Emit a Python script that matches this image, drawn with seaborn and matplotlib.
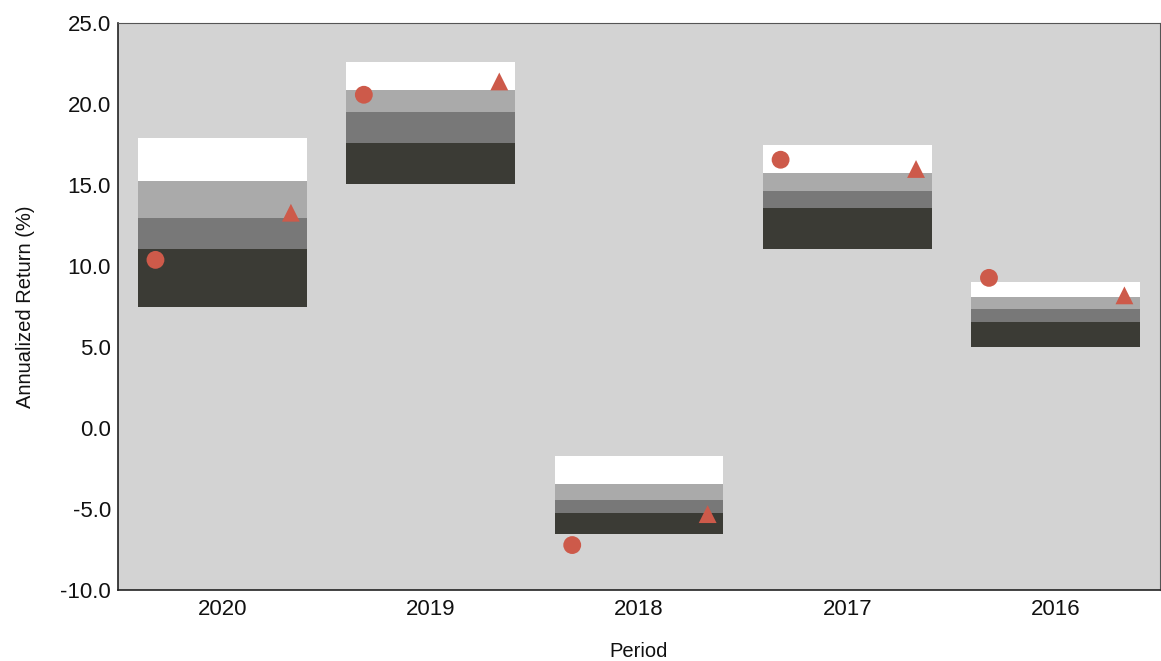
import numpy as np
import pandas as pd
import matplotlib
matplotlib.use("Agg")
import matplotlib.pyplot as plt
import seaborn as sns

# ================= DATOS =================
periods = ["2020", "2019", "2018", "2017", "2016"]
# quartile bands (top -> bottom)
band_max = [17.93, 22.61, -1.72, 17.49, 9.03]
band_q1 = [15.27, 20.85, -3.43, 15.74, 8.08]
band_med = [12.98, 19.49, -4.43, 14.67, 7.36]
band_q3 = [11.07, 17.62, -5.26, 13.58, 6.58]
band_min = [7.49, 15.08, -6.55, 11.07, 5.03]
fund_ret = [10.39, 20.58, -7.21, 16.57, 9.28]      # circles
bench_ret = [13.3, 21.4, -5.3, 16.0, 8.2]          # triangles

BG = "#d3d3d3"
BAND_COLORS = ["#ffffff", "#aaaaaa", "#787878", "#3b3b35"]
MARK = "#cd5a4a"

sns.set_theme(style="white")
plt.rcParams["font.family"] = ["Liberation Sans", "DejaVu Sans"]

fig = plt.figure(figsize=(11.61, 6.61), dpi=100)
ax = fig.add_axes([0.1016, 0.107, 0.8974, 0.858])
ax.set_facecolor(BG)

x = np.arange(len(periods))
edges = [band_max, band_q1, band_med, band_q3, band_min]
for i, col in enumerate(BAND_COLORS):
    top = np.array(edges[i])
    bot = np.array(edges[i + 1])
    ax.bar(x, top - bot, bottom=bot, width=0.81, color=col, edgecolor="none", zorder=2)

pts = pd.DataFrame({
    "x": np.concatenate([x - 0.32, x + 0.33]),
    "y": fund_ret + bench_ret,
    "serie": ["Fund"] * len(x) + ["Benchmark"] * len(x),
})
sns.scatterplot(data=pts, x="x", y="y", style="serie",
                markers={"Fund": "o", "Benchmark": "^"},
                color=MARK, s=165, linewidth=0, legend=False, ax=ax, zorder=3)

ax.set_xlim(-0.5, 4.5)
ax.set_ylim(-10, 25)
ax.set_xticks(x)
ax.set_xticklabels(periods)
ax.set_yticks(np.arange(-10, 25.1, 5))
ax.set_yticklabels([f"{v:.1f}" for v in np.arange(-10, 25.1, 5)])
ax.tick_params(axis="both", length=0, labelsize=16, colors="#111111")
ax.tick_params(axis="y", pad=5)
ax.tick_params(axis="x", pad=6)

for side in ["left", "bottom"]:
    ax.spines[side].set_color("#222222")
    ax.spines[side].set_linewidth(1.2)
for side in ["top", "right"]:
    ax.spines[side].set_color("#555555")
    ax.spines[side].set_linewidth(0.8)

ax.set_xlabel("Period", fontsize=14.5, color="#111111", labelpad=16)
ax.set_ylabel("Annualized Return (%)", fontsize=14.5, color="#111111", labelpad=18)

fig.savefig("out.png", dpi=100)
